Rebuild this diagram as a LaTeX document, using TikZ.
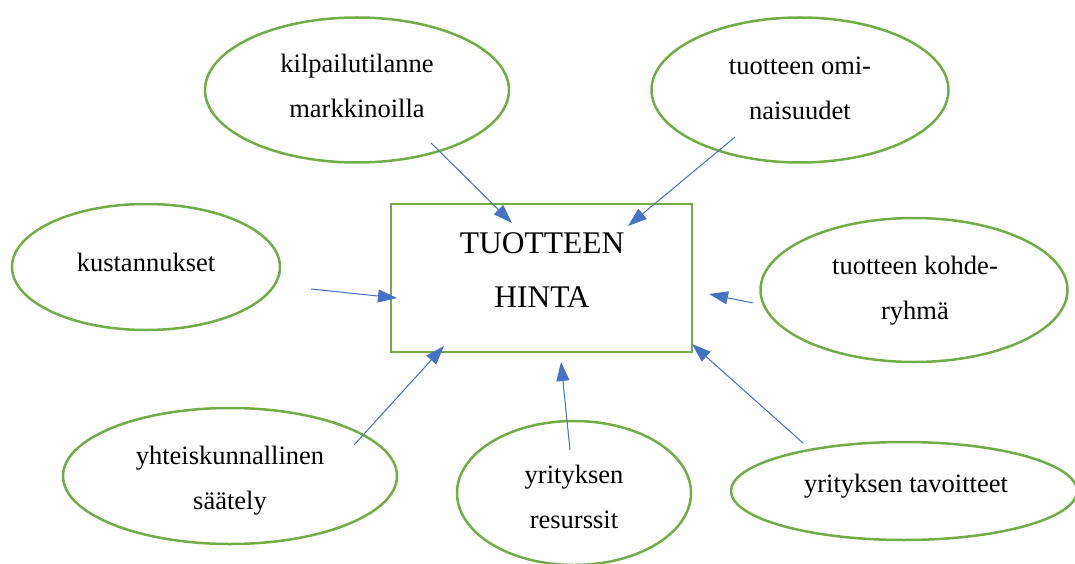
\documentclass[tikz,border=0pt]{standalone}
\usepackage{fontspec}
\setmainfont{Liberation Serif}
\usetikzlibrary{shapes.geometric,arrows.meta}
\definecolor{leafgreen}{HTML}{70AD47}
\definecolor{linkblue}{HTML}{4472C4}
\tikzset{
  factor/.style={ellipse, draw=leafgreen, line width=2.5pt, inner sep=0pt},
  pricebox/.style={rectangle, draw=leafgreen, line width=2.8pt, inner sep=0pt},
  label/.style={align=center, inner sep=0pt, font=\fontsize{26.5}{45}\selectfont},
  biglabel/.style={align=center, inner sep=0pt, font=\fontsize{31.5}{54}\selectfont},
  link/.style={draw=linkblue, line width=1pt, -{Triangle[length=19pt,width=13pt]}, fill=linkblue}
}
\begin{document}
\begin{tikzpicture}[x=1pt,y=-1pt]
\useasboundingbox (0,0) rectangle (1075,564);

% central box
\node[pricebox, minimum width=301pt, minimum height=148pt] (price) at (541.5,278) {};
\node[biglabel] (pricetxt) at (542,270) {TUOTTEEN\\HINTA};

% surrounding factors
\node[factor, minimum width=304pt, minimum height=145pt] (comp) at (357,90) {};
\node[label] (comptxt) at (357,86) {kilpailutilanne\\markkinoilla};

\node[factor, minimum width=297pt, minimum height=145pt] (prop) at (800,90) {};
\node[label] (proptxt) at (800,88) {tuotteen omi-\\naisuudet};

\node[factor, minimum width=268pt, minimum height=126pt] (cost) at (146,267) {};
\node[label] (costtxt) at (146,262) {kustannukset};

\node[factor, minimum width=307pt, minimum height=144pt] (target) at (914,290) {};
\node[label] (targettxt) at (915,291) {tuotteen kohde-\\ryhmä};

\node[factor, minimum width=334pt, minimum height=136pt] (reg) at (230,476) {};
\node[label] (regtxt) at (230,481) {yhteiskunnallinen\\säätely};

\node[factor, minimum width=234pt, minimum height=144pt] (res) at (574,493) {};
\node[label] (restxt) at (574,497) {yrityksen\\resurssit};

\node[factor, minimum width=346pt, minimum height=98pt] (goal) at (904,491) {};
\node[label] (goaltxt) at (906,486) {yrityksen tavoitteet};

% arrow ends
\coordinate (a1s) at (431,143); \coordinate (a1t) at (512,223);
\coordinate (a2s) at (735,137); \coordinate (a2t) at (628,226);
\coordinate (a3s) at (311,289); \coordinate (a3t) at (397,298);
\coordinate (a4s) at (753,303); \coordinate (a4t) at (709,294);
\coordinate (a5s) at (354,445); \coordinate (a5t) at (444,346);
\coordinate (a6s) at (570,450); \coordinate (a6t) at (561,362);
\coordinate (a7s) at (803,443); \coordinate (a7t) at (692,344);

\draw[link] (a1s) -- (a1t);
\draw[link] (a2s) -- (a2t);
\draw[link] (a3s) -- (a3t);
\draw[link] (a4s) -- (a4t);
\draw[link] (a5s) -- (a5t);
\draw[link] (a6s) -- (a6t);
\draw[link] (a7s) -- (a7t);
\end{tikzpicture}
\end{document}
